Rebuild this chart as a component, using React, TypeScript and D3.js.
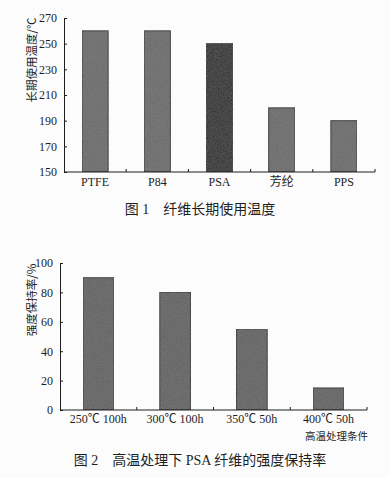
import React, { useEffect, useRef } from "react";
import * as d3 from "d3";

const fibers = ["PTFE", "P84", "PSA", "芳纶", "PPS"];
const fiberTemps = [260, 260, 250, 200, 190];
const tempTicks = [150, 170, 190, 210, 230, 250, 270];

const conditions = ["250℃ 100h", "300℃ 100h", "350℃ 50h", "400℃ 50h"];
const retention = [90, 80, 55, 15];
const retentionTicks = [0, 20, 40, 60, 80, 100];

const SERIF = "'Liberation Serif', 'Times New Roman', 'Noto Sans CJK SC', serif";
const INK = "#1e1e1e";

const W = 389;
const H = 478;

function YAxis({ scale, ticks, x }: { scale: any; ticks: number[]; x: number }) {
  const ref = useRef<SVGGElement>(null);
  useEffect(() => {
    if (!ref.current) return;
    const axis = d3
      .axisLeft(scale)
      .tickValues(ticks)
      .tickSizeInner(-3)
      .tickSizeOuter(0)
      .tickPadding(7)
      .tickFormat(d3.format("d") as any);
    const g = d3.select(ref.current);
    g.call(axis as any);
    g.select(".domain").attr("stroke", INK).attr("stroke-width", 1);
    g.selectAll(".tick line").attr("stroke", INK);
    g.selectAll(".tick text")
      .attr("fill", INK)
      .attr("font-family", SERIF)
      .attr("font-size", 12);
  }, [scale, ticks]);
  return <g ref={ref} transform={`translate(${x},0)`} />;
}

function BarChart({
  cats,
  values,
  yDomain,
  yRange,
  xRange,
  padding,
  ticks,
  fills,
  labelY,
}: {
  cats: string[];
  values: number[];
  yDomain: [number, number];
  yRange: [number, number];
  xRange: [number, number];
  padding: number;
  ticks: number[];
  fills: string[];
  labelY: number;
}) {
  const x = d3.scaleBand<string>().domain(cats).range(xRange).paddingInner(padding).paddingOuter(padding / 2);
  const y = d3.scaleLinear().domain(yDomain).range(yRange);
  const step = x.step();
  const y0 = y(yDomain[0]);
  return (
    <g>
      {cats.map((c, i) => (
        <rect
          key={c}
          x={x(c)}
          y={y(values[i])}
          width={x.bandwidth()}
          height={y0 - y(values[i])}
          fill={fills[i]}
          filter="url(#grain)"
          stroke={INK}
          strokeWidth={1}
        />
      ))}
      <line x1={xRange[0]} x2={xRange[1]} y1={y0} y2={y0} stroke={INK} strokeWidth={1} />
      {cats.map((c, i) => (
        <line
          key={"t" + c}
          x1={xRange[0] + step * (i + 1)}
          x2={xRange[0] + step * (i + 1)}
          y1={y0}
          y2={y0 - 3}
          stroke={INK}
        />
      ))}
      {cats.map((c) => (
        <text
          key={"l" + c}
          x={(x(c) as number) + x.bandwidth() / 2}
          y={labelY}
          textAnchor="middle"
          fontFamily={SERIF}
          fontSize={12}
          fill={INK}
        >
          {c}
        </text>
      ))}
      <YAxis scale={y} ticks={ticks} x={xRange[0]} />
    </g>
  );
}

export default function App() {
  return (
    <svg
      width={W}
      height={H}
      viewBox={`0 0 ${W} ${H}`}
      style={{ position: "absolute", left: 0, top: 0, background: "#fcfcfc" }}
    >
      <defs>
        <filter id="grain" x="0" y="0" width="100%" height="100%">
          <feTurbulence type="fractalNoise" baseFrequency="1.2" numOctaves="1" seed="3" result="noise" />
          <feColorMatrix
            in="noise"
            type="matrix"
            values="0 0 0 0 0.45  0 0 0 0 0.45  0 0 0 0 0.45  0 0 0 0.25 0"
            result="grey"
          />
          <feComposite in="grey" in2="SourceGraphic" operator="atop" />
        </filter>
      </defs>

      {/* Chart 1 */}
      <BarChart
        cats={fibers}
        values={fiberTemps}
        yDomain={[150, 270]}
        yRange={[172, 18]}
        xRange={[64, 375]}
        padding={0.58}
        ticks={tempTicks}
        fills={["#666", "#666", "#151515", "#666", "#666"]}
        labelY={186}
      />
      <text
        transform="translate(36,60) rotate(-90)"
        textAnchor="middle"
        fontFamily="'Noto Sans CJK SC', sans-serif"
        fontSize={11.5}
        fill={INK}
      >
        长期使用温度/℃
      </text>
      <text x={200} y={214} textAnchor="middle" fontFamily={SERIF} fontSize={14} fill={INK}>
        图 1　纤维长期使用温度
      </text>

      {/* Chart 2 */}
      <BarChart
        cats={conditions}
        values={retention}
        yDomain={[0, 100]}
        yRange={[410, 263]}
        xRange={[60, 367]}
        padding={0.6}
        ticks={retentionTicks}
        fills={["#5c5c5c", "#5c5c5c", "#5c5c5c", "#5c5c5c"]}
        labelY={423}
      />
      <text
        transform="translate(36,300) rotate(-90)"
        textAnchor="middle"
        fontFamily="'Noto Sans CJK SC', sans-serif"
        fontSize={11.5}
        fill={INK}
      >
        强度保持率/%
      </text>
      <text x={368} y={440} textAnchor="end" fontFamily="'Noto Sans CJK SC', sans-serif" fontSize={10.5} fill={INK}>
        高温处理条件
      </text>
      <text x={200} y={465} textAnchor="middle" fontFamily={SERIF} fontSize={14} fill={INK}>
        图 2　高温处理下 PSA 纤维的强度保持率
      </text>
    </svg>
  );
}
